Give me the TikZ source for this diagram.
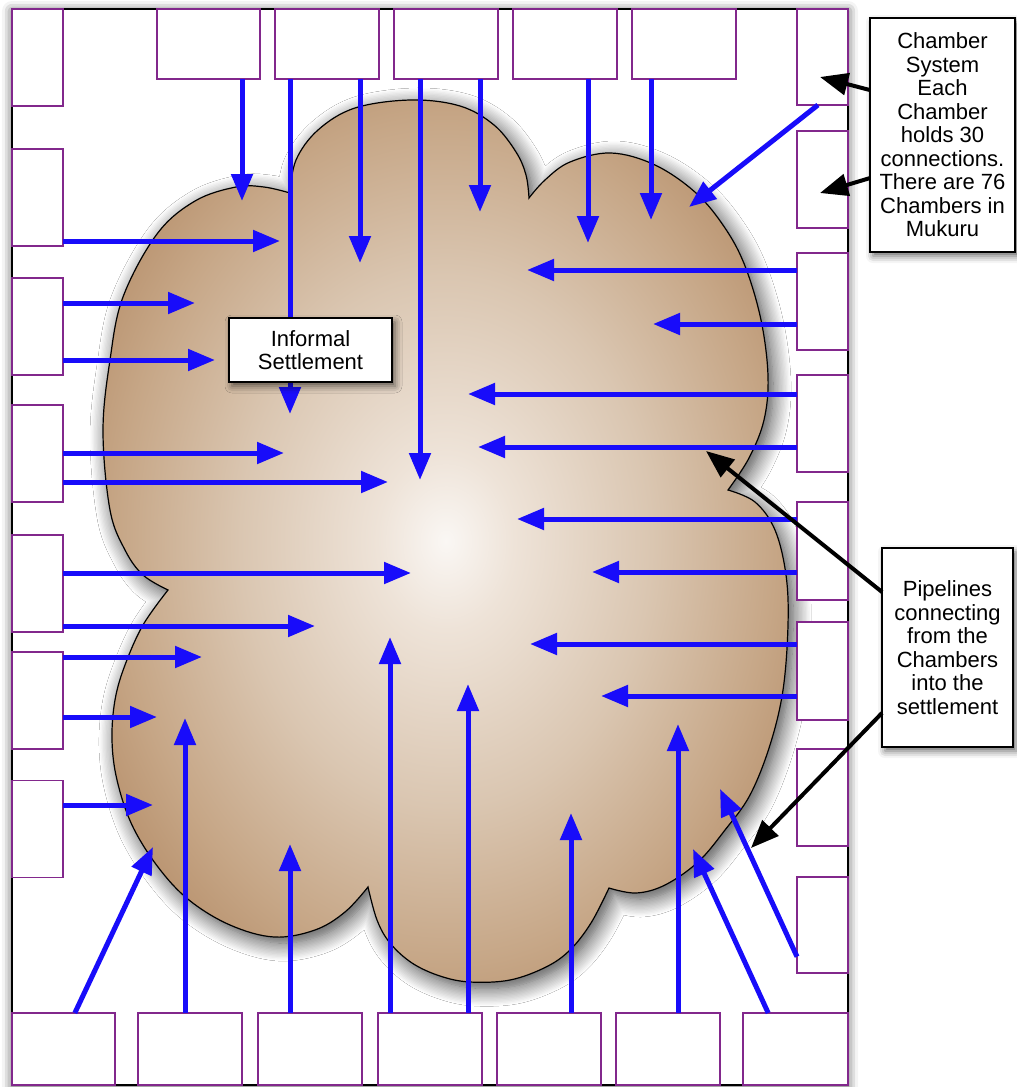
\documentclass[tikz,border=0pt]{standalone}
\usepackage{fontspec}
\setmainfont{Liberation Sans}
\usetikzlibrary{arrows.meta,calc,shadows.blur}
\definecolor{pipeblue}{RGB}{24,12,250}
\definecolor{chamb}{RGB}{130,40,140}
\definecolor{cloudin}{RGB}{250,247,244}
\definecolor{cloudb}{RGB}{238,227,216}
\definecolor{cloudc}{RGB}{218,198,177}
\definecolor{cloudd}{RGB}{198,166,134}
\definecolor{cloudout}{RGB}{176,134,96}
\pgfdeclareradialshading{cloudsh}{\pgfpoint{0bp}{0bp}}{color(0bp)=(cloudin); color(5bp)=(cloudb); color(15bp)=(cloudc); color(24bp)=(cloudd); color(32bp)=(cloudout); color(80bp)=(cloudout)}
\begin{document}
\begin{tikzpicture}[x=1pt,y=-1pt,
  chamber/.style={draw=chamb, line width=1.5pt, fill=white, inner sep=0pt, outer sep=0pt},
  pipeline/.style={draw=pipeblue, line width=5pt, -{Triangle[length=27pt,width=21pt]}},
  pointer/.style={draw=black, line width=4pt, -{Triangle[length=28pt,width=22pt]}},
  callout/.style={draw=black, line width=1.5pt, fill=white, inner sep=0pt, outer sep=0pt,
    font=\fontsize{22}{23.5}\selectfont, align=center,
    blur shadow={shadow xshift=3pt, shadow yshift=-4pt, shadow blur radius=7pt, shadow opacity=60}}
]
\useasboundingbox (0,0) rectangle (1017,1087);
% frame
\path[draw=black, line width=1.5pt, fill=white,
  blur shadow={shadow xshift=0pt, shadow yshift=-2pt, shadow blur radius=10pt, shadow opacity=70}]
  (12,9) rectangle (848,1085);
% cloud
\path[draw=black, line width=1.2pt, shade, shading=cloudsh,
  blur shadow={shadow xshift=5pt, shadow yshift=-6pt, shadow blur radius=18pt, shadow blur steps=14, shadow opacity=75}]
  plot[smooth, tension=0.6] coordinates {(168,590) (143,575) (125,550) (110,510) (103,431) (110,360) (123,297) (157,234) (195,201) (236,187) (264,187) (290,193)}
  -- plot[smooth, tension=0.6] coordinates {(290,193) (296,160) (318,130) (355,108) (411,100) (460,106) (494,125) (516,152) (526,175) (529,198)}
  -- plot[smooth, tension=0.6] coordinates {(529,198) (545,180) (570,162) (611,153) (655,165) (696,193) (725,228) (745,266) (761,320) (768,376) (764,420) (749,458) (728,490)}
  -- plot[smooth, tension=0.6] coordinates {(728,490) (755,502) (775,530) (786,575) (788,625) (783,690) (770,745) (750,795) (725,830) (698,862) (665,885) (636,893) (609,888)}
  -- plot[smooth, tension=0.6] coordinates {(609,888) (591,923) (570,950) (546,967) (510,980) (470,982) (440,976) (412,963) (390,943) (377,920) (368,887)}
  -- plot[smooth, tension=0.6] coordinates {(368,887) (345,912) (315,930) (274,937) (230,925) (189,900) (158,867) (132,825) (117,780) (112,740) (115,700) (125,665) (143,625) (168,590)}
  -- cycle;
% chambers top
\node[chamber, minimum width=103pt, minimum height=70pt] (T1) at (208.5,44) {};
\node[chamber, minimum width=104pt, minimum height=70pt] (T2) at (327,44) {};
\node[chamber, minimum width=104pt, minimum height=70pt] (T3) at (446,44) {};
\node[chamber, minimum width=104pt, minimum height=70pt] (T4) at (565,44) {};
\node[chamber, minimum width=104pt, minimum height=70pt] (T5) at (684,44) {};
% chambers left
\node[chamber, minimum width=51pt, minimum height=97pt] (L1) at (37.5,57.5) {};
\node[chamber, minimum width=51pt, minimum height=97pt] (L2) at (37.5,197.5) {};
\node[chamber, minimum width=51pt, minimum height=97pt] (L3) at (37.5,326.5) {};
\node[chamber, minimum width=51pt, minimum height=97pt] (L4) at (37.5,453.5) {};
\node[chamber, minimum width=51pt, minimum height=97pt] (L5) at (37.5,583.5) {};
\node[chamber, minimum width=51pt, minimum height=97pt] (L6) at (37.5,700.5) {};
\node[chamber, minimum width=51pt, minimum height=97pt] (L7) at (37.5,829) {};
% chambers right
\node[chamber, minimum width=51pt, minimum height=96pt] (R1) at (822.5,57) {};
\node[chamber, minimum width=51pt, minimum height=97pt] (R2) at (822.5,179.5) {};
\node[chamber, minimum width=51pt, minimum height=97pt] (R3) at (822.5,301.5) {};
\node[chamber, minimum width=51pt, minimum height=97pt] (R4) at (822.5,423.5) {};
\node[chamber, minimum width=51pt, minimum height=98pt] (R5) at (822.5,551) {};
\node[chamber, minimum width=51pt, minimum height=98pt] (R6) at (822.5,671) {};
\node[chamber, minimum width=51pt, minimum height=97pt] (R7) at (822.5,797.5) {};
\node[chamber, minimum width=51pt, minimum height=96pt] (R8) at (822.5,925) {};
% chambers bottom
\node[chamber, minimum width=103pt, minimum height=72pt] (B1) at (63.5,1049) {};
\node[chamber, minimum width=104pt, minimum height=72pt] (B2) at (190,1049) {};
\node[chamber, minimum width=104pt, minimum height=72pt] (B3) at (310,1049) {};
\node[chamber, minimum width=104pt, minimum height=72pt] (B4) at (430,1049) {};
\node[chamber, minimum width=104pt, minimum height=72pt] (B5) at (549,1049) {};
\node[chamber, minimum width=104pt, minimum height=72pt] (B6) at (668,1049) {};
\node[chamber, minimum width=105pt, minimum height=72pt] (B7) at (795.5,1049) {};
% pipeline end points
\coordinate (t1) at (242,201);
\coordinate (t2) at (290,414);
\coordinate (t3) at (360,263);
\coordinate (t4) at (420,480);
\coordinate (t5) at (480,212);
\coordinate (t6) at (588,243);
\coordinate (t7) at (651,220);
\coordinate (r1) at (689,207);
\coordinate (r3a) at (527,270);
\coordinate (r3b) at (653,324);
\coordinate (r4a) at (468,394);
\coordinate (r4b) at (478,447);
\coordinate (r5a) at (517,519);
\coordinate (r5b) at (592,572);
\coordinate (r6a) at (530,644);
\coordinate (r6b) at (601,696);
\coordinate (r8) at (720,789);
\coordinate (l2) at (280,241);
\coordinate (l3a) at (195,303);
\coordinate (l3b) at (215,360);
\coordinate (l4a) at (284,453);
\coordinate (l4b) at (388,482);
\coordinate (l5a) at (411,573);
\coordinate (l5b) at (315,626);
\coordinate (l6a) at (202,657);
\coordinate (l6b) at (157,717);
\coordinate (l7) at (153,805);
\coordinate (b1) at (153,847);
\coordinate (b2) at (185,718);
\coordinate (b3) at (290,844);
\coordinate (b4a) at (390,637);
\coordinate (b4b) at (468,684);
\coordinate (b5) at (571,813);
\coordinate (b6) at (678,724);
\coordinate (b7) at (693,849);
% pipelines from top
\draw[pipeline] (T1.south -| t1) -- (t1);
\draw[pipeline] (T2.south -| t2) -- (t2);
\draw[pipeline] (T2.south -| t3) -- (t3);
\draw[pipeline] (T3.south -| t4) -- (t4);
\draw[pipeline] (T3.south -| t5) -- (t5);
\draw[pipeline] (T4.south -| t6) -- (t6);
\draw[pipeline] (T5.south -| t7) -- (t7);
% pipelines from right
\draw[pipeline] ($(R1.south west)!0.41!(R1.south east)$) -- (r1);
\draw[pipeline] (R3.west |- r3a) -- (r3a);
\draw[pipeline] (R3.west |- r3b) -- (r3b);
\draw[pipeline] (R4.west |- r4a) -- (r4a);
\draw[pipeline] (R4.west |- r4b) -- (r4b);
\draw[pipeline] (R5.west |- r5a) -- (r5a);
\draw[pipeline] (R5.west |- r5b) -- (r5b);
\draw[pipeline] (R6.west |- r6a) -- (r6a);
\draw[pipeline] (R6.west |- r6b) -- (r6b);
\draw[pipeline] ($(R8.north west)!0.83!(R8.south west)$) -- (r8);
% pipelines from left
\draw[pipeline] (L2.east |- l2) -- (l2);
\draw[pipeline] (L3.east |- l3a) -- (l3a);
\draw[pipeline] (L3.east |- l3b) -- (l3b);
\draw[pipeline] (L4.east |- l4a) -- (l4a);
\draw[pipeline] (L4.east |- l4b) -- (l4b);
\draw[pipeline] (L5.east |- l5a) -- (l5a);
\draw[pipeline] (L5.east |- l5b) -- (l5b);
\draw[pipeline] (L6.east |- l6a) -- (l6a);
\draw[pipeline] (L6.east |- l6b) -- (l6b);
\draw[pipeline] (L7.east |- l7) -- (l7);
% pipelines from bottom
\draw[pipeline] ($(B1.north west)!0.61!(B1.north east)$) -- (b1);
\draw[pipeline] (B2.north -| b2) -- (b2);
\draw[pipeline] (B3.north -| b3) -- (b3);
\draw[pipeline] (B4.north -| b4a) -- (b4a);
\draw[pipeline] (B4.north -| b4b) -- (b4b);
\draw[pipeline] (B5.north -| b5) -- (b5);
\draw[pipeline] (B6.north -| b6) -- (b6);
\draw[pipeline] ($(B7.north west)!0.24!(B7.north east)$) -- (b7);
% label box
\node[callout, minimum width=163pt, minimum height=64pt] (IS) at (310.5,350) {Informal\\Settlement};
% callouts
\node[callout, minimum width=145pt, minimum height=234pt] (C1) at (942.5,135)
  {Chamber\\System\\Each\\Chamber\\holds 30\\connections.\\There are 76\\Chambers in\\Mukuru};
\node[callout, minimum width=131pt, minimum height=199pt] (C2) at (947.5,647.5)
  {Pipelines\\connecting\\from the\\Chambers\\into the\\settlement};
\coordinate (k1) at (820,77);
\coordinate (k2) at (820,193);
\coordinate (k3) at (706,451);
\coordinate (k4) at (751,848);
\draw[pointer] ($(C1.north west)!0.308!(C1.south west)$) -- (k1);
\draw[pointer] ($(C1.north west)!0.684!(C1.south west)$) -- (k2);
\draw[pointer] ($(C2.north west)!0.221!(C2.south west)$) -- (k3);
\draw[pointer] ($(C2.north west)!0.829!(C2.south west)$) -- (k4);
\end{tikzpicture}
\end{document}
